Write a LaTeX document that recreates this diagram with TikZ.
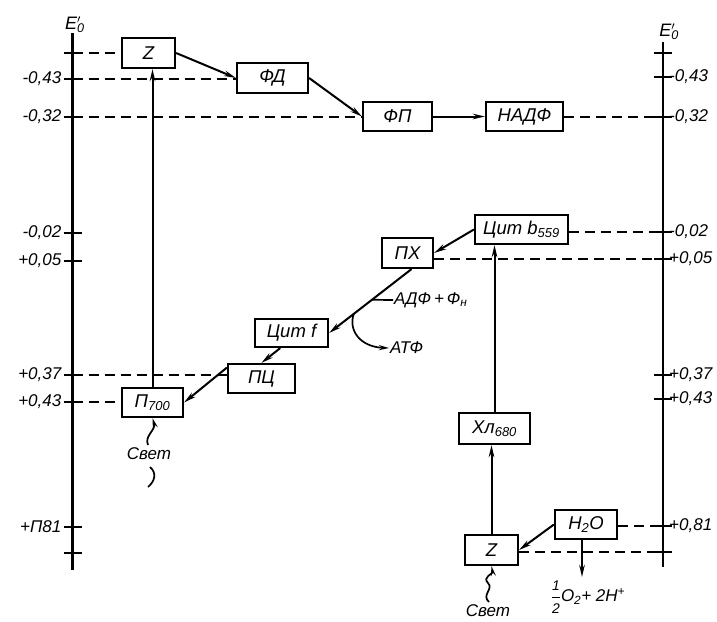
\documentclass[tikz,border=0pt]{standalone}
\usepackage{fontspec}
\setmainfont{Liberation Sans}
\usetikzlibrary{arrows.meta,calc}
\begin{document}
\begin{tikzpicture}[x=1pt,y=-1pt,
  bx/.style={draw,line width=2.2pt,inner sep=0pt,font=\fontsize{18.5}{18.5}\selectfont\itshape},
  axisline/.style={line width=2.8pt},
  tk/.style={line width=1.8pt},
  dsh/.style={line width=1.8pt,dash pattern=on 10pt off 6pt},
  arr/.style={line width=2pt,-{Stealth[length=12pt,width=5.5pt]}},
  lbl/.style={font=\fontsize{17}{17}\selectfont\itshape,inner sep=1pt},
  ttl/.style={font=\fontsize{18}{18}\selectfont\itshape,inner sep=0pt},
  thin arr/.style={line width=1.7pt,-{Stealth[length=10pt,width=5pt]}},
]
\useasboundingbox (0,0) rectangle (717,621);

% axes
\coordinate (LAt) at (72.5,33);
\coordinate (LAb) at (72.5,570);
\coordinate (RAt) at (663,42);
\coordinate (RAb) at (663,567);
\draw[axisline] (LAt) -- (LAb);
\draw[axisline] (RAt) -- (RAb);
\node[ttl] (EL) at (75,25) {E\makebox[0pt][l]{\textsuperscript{$\prime$}}\textsubscript{0}};
\node[ttl] (ER) at (669,32) {E\makebox[0pt][l]{\textsuperscript{$\prime$}}\textsubscript{0}};

% tick coordinates
\foreach \n/\y in {1/53,2/79,3/117,4/233,5/261,6/375,7/402,8/527,9/553}{
  \coordinate (L\n) at (72.5,\y);
  \draw[tk] ($(L\n)+(-9,0)$) -- ($(L\n)+(9,0)$);
}
\foreach \n/\y in {1/53,2/77,3/117,4/232,5/259,6/375,7/399,8/526,9/552}{
  \coordinate (R\n) at (663,\y);
  \draw[tk] ($(R\n)+(-9,0)$) -- ($(R\n)+(9,0)$);
}
% left labels
\node[lbl,anchor=east] (l2) at ($(L2)+(-10,0)$) {-0,43};
\node[lbl,anchor=east] (l3) at ($(L3)+(-10,0)$) {-0,32};
\node[lbl,anchor=east] (l4) at ($(L4)+(-10,0)$) {-0,02};
\node[lbl,anchor=east] (l5) at ($(L5)+(-10,0)$) {+0,05};
\node[lbl,anchor=east] (l6) at ($(L6)+(-10,0)$) {+0,37};
\node[lbl,anchor=east] (l7) at ($(L7)+(-10,0)$) {+0,43};
\node[lbl,anchor=east] (l8) at ($(L8)+(-10,0)$) {+П81};
% right labels
\node[lbl,anchor=west] (r2) at ($(R2)+(5,0)$) {-0,43};
\node[lbl,anchor=west] (r3) at ($(R3)+(5,0)$) {-0,32};
\node[lbl,anchor=west] (r4) at ($(R4)+(5,0)$) {-0,02};
\node[lbl,anchor=west] (r5) at ($(R5)+(5,0)$) {+0,05};
\node[lbl,anchor=west] (r6) at ($(R6)+(5,0)$) {+0,37};
\node[lbl,anchor=west] (r7) at ($(R7)+(5,0)$) {+0,43};
\node[lbl,anchor=west] (r8) at ($(R8)+(5,0)$) {+0,81};

% boxes
\node[bx,minimum width=53pt,minimum height=30pt] (Zt) at (148.5,53) {Z};
\node[bx,minimum width=71pt,minimum height=30pt] (FD) at (272.5,78) {ФД};
\node[bx,minimum width=69pt,minimum height=29pt] (FP) at (397.5,116.5) {ФП};
\node[bx,minimum width=77pt,minimum height=29pt] (NADF) at (524.5,116.5) {НАДФ};
\node[bx,minimum width=93pt,minimum height=29pt] (Cb) at (521.5,229.5) {Цит b\textsubscript{559}};
\node[bx,minimum width=51pt,minimum height=30pt] (PX) at (407.5,253) {ПХ};
\node[bx,minimum width=73pt,minimum height=28pt] (Cf) at (291.5,333) {Цит f};
\node[bx,minimum width=67pt,minimum height=29pt] (PC) at (261.5,378.5) {ПЦ};
\node[bx,minimum width=61pt,minimum height=29pt] (P700) at (152.5,402.5) {П\textsubscript{700}};
\node[bx,minimum width=71pt,minimum height=31pt] (Xl) at (494.5,428.5) {Хл\textsubscript{680}};
\node[bx,minimum width=62pt,minimum height=29pt] (H2O) at (586,524.5) {H\textsubscript{2}O};
\node[bx,minimum width=53pt,minimum height=30pt] (Zb) at (491.5,550) {Z};

% dashed level lines
\draw[dsh] (L1) -- (L1 -| Zt.west);
\draw[dsh] (L2) -- (L2 -| FD.west);
\draw[dsh] (L3) -- (L3 -| FP.west);
\draw[dsh] (L6) -- (L6 -| PC.west);
\draw[dsh] (L7) -- (L7 -| P700.west);
\draw[dsh] (R3 -| NADF.east) -- (R3);
\draw[dsh] (R4 -| Cb.east) -- (R4);
\draw[dsh] (R5 -| PX.east) -- (R5);
\draw[dsh] (R8 -| H2O.east) -- (R8);
\draw[dsh] (R9 -| Zb.east) -- (R9);

% electron flow arrows
\draw[arr] (Zt.east) -- (FD.west);
\draw[arr] (FD.east) -- (FP.west);
\draw[arr] (FP.east) -- (NADF.west);
\draw[arr] (Cb.west) -- (PX.east);
\coordinate (pxs) at ($(PX.south)+(4,0)$);
\draw[arr] (pxs) -- (Cf.east);
\draw[arr] ($(Cf.south west)!0.35!(Cf.south east)$) -- (PC.north);
\draw[arr] ($(PC.north west)!0.15!(PC.south west)$) -- (P700.east);
\draw[arr] (P700.north) -- (P700.north |- Zt.south);
\draw[arr] (Xl.north) -- (Xl.north |- Cb.south);
\draw[arr] (Zb.north) -- (Zb.north |- Xl.south);
\draw[arr] (H2O.west) -- (Zb.east);
\coordinate (o2) at (582,577);
\draw[arr] ($(H2O.south)+(-4,0)$) -- (o2);
\node[lbl] (O2lbl) at (588,597) {$\displaystyle\frac{\mbox{\fontsize{14}{14}\selectfont\itshape 1}}{\mbox{\fontsize{14}{14}\selectfont\itshape 2}}$O\textsubscript{2}+ 2H\textsuperscript{+}};

% phosphorylation branch
\coordinate (br1) at ($(pxs)!0.48!(Cf.east)$);
\coordinate (br2) at ($(pxs)!0.7!(Cf.east)$);
\node[lbl,anchor=west] (ADF) at (393,300) {АДФ\,+\,Ф\textsubscript{н}};
\node[lbl,anchor=west] (ATF) at (389,348) {АТФ};
\draw[line width=1.7pt] (br1) -- (ADF.west);
\draw[thin arr] (br2) .. controls (348,330) and (360,347) .. (ATF.west);

% light
\node[lbl] (sv1) at (149,454) {Свет};
\coordinate (w1) at (148,445);
\draw[thin arr] (w1) .. controls (144,436) and (156,430) .. (P700.south);
\coordinate (w2a) at (150,467);
\coordinate (w2b) at (148,487);
\draw[line width=1.7pt] (w2a) .. controls (157,473) and (155,481) .. (w2b);
\node[lbl] (sv2) at (488,611) {Свет};
\coordinate (w3) at (489,602);
\draw[thin arr] (w3) .. controls (481,595) and (494,589) .. (488,583) .. controls (482,577) and (493,574) .. (Zb.south);
\end{tikzpicture}
\end{document}
